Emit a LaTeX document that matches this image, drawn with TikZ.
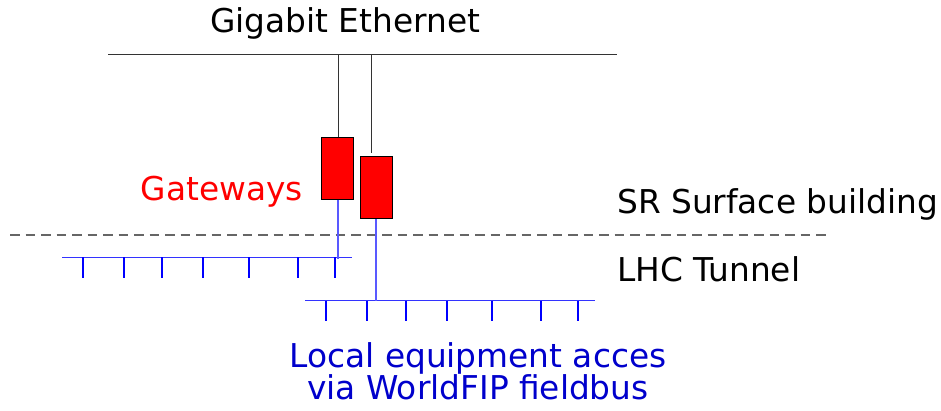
\documentclass[tikz,border=0pt]{standalone}
\usepackage{fontspec}
\setmainfont{DejaVu Sans}
\definecolor{txtblue}{RGB}{0,0,204}
\begin{document}
\begin{tikzpicture}[x=1pt,y=-1pt,
  lbl/.style={inner sep=0pt,font=\fontsize{32.8}{38}\selectfont},
  gw/.style={draw=black,fill=red,line width=0.9pt,minimum width=31.5pt,minimum height=62pt,inner sep=0pt},
  eth/.style={draw=black!80,line width=1pt},
  bus/.style={draw=blue!80,line width=1.3pt},
  tick/.style={draw=blue,line width=1.7pt},
  drop/.style={draw=blue!65,line width=1.2pt}]
\useasboundingbox (0,0) rectangle (941,411);
% Ethernet
\coordinate (e1) at (108,55);
\coordinate (e2) at (617,55);
\draw[eth] (e1) -- (e2);
\node[lbl,anchor=base] (title) at (345,33) {Gigabit Ethernet};
% gateways
\node[gw,anchor=north west] (g1) at (321,137) {};
\node[gw,anchor=north west] (g2) at (360,156) {};
\coordinate (t1) at (338,55);
\coordinate (t2) at (371,55);
\coordinate (t2e) at (371,153);
\draw[eth] (t1) -- (t1 |- g1.north);
\draw[eth] (t2) -- (t2e);
% dashed separator
\coordinate (d1) at (10,235);
\coordinate (d2) at (830,235);
\draw[draw=black!60,line width=1.3pt,dash pattern=on 9.5pt off 6pt] (d1) -- (d2);
% bus 1
\coordinate (b1a) at (62,257.5);
\coordinate (b1b) at (352,257.5);
\draw[bus] (b1a) -- (b1b);
\draw[drop] (t1 |- g1.south) -- (338,259.5);
\foreach \x in {82.7,123.7,162.3,203.3,249,297.7,335}
  \draw[tick] (\x,257.5) -- (\x,278);
% bus 2
\coordinate (b2a) at (305,300.5);
\coordinate (b2b) at (595,300.5);
\draw[bus] (b2a) -- (b2b);
\draw[drop] (376,0 |- g2.south) -- (376,300.5);
\foreach \x in {326,367.3,405.7,446.7,492.3,540.7,578.3}
  \draw[tick] (\x,300.5) -- (\x,321);
% labels
\node[lbl,anchor=base east,text=red] (gwl) at (303,201) {Gateways};
\node[lbl,anchor=base west] (sr) at (617,214) {SR Surface building};
\node[lbl,anchor=base west] (lhc) at (617,281) {LHC Tunnel};
\node[lbl,anchor=base,text=txtblue] (loc) at (478,367) {Local equipment acces};
\node[lbl,anchor=base,text=txtblue] (via) at (478,399) {via WorldFIP fieldbus};
\end{tikzpicture}
\end{document}
